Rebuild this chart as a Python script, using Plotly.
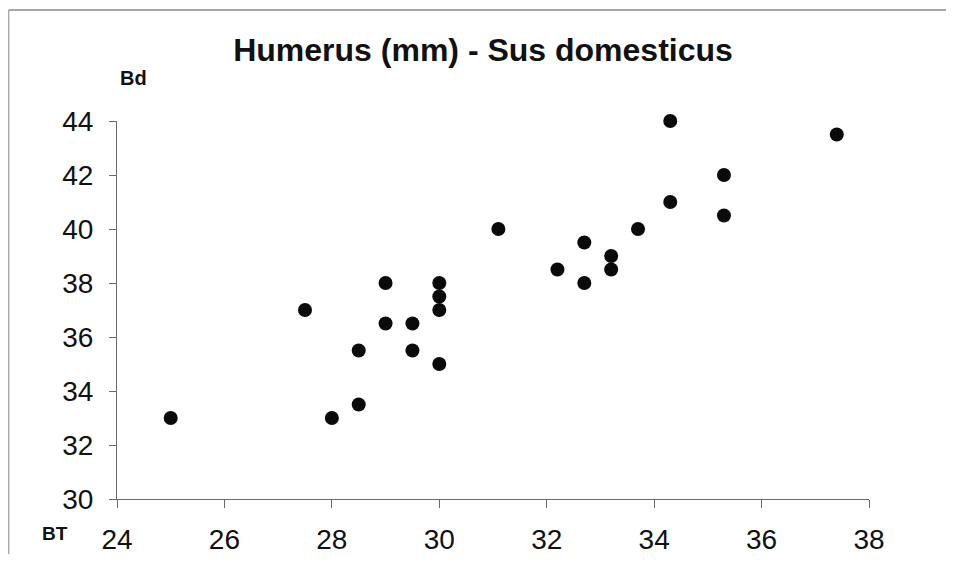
import plotly.graph_objects as go

# Data
bt = [25, 27.5, 28, 28.5, 28.5, 29, 29, 29.5, 29.5, 30, 30, 30, 30,
      31.1, 32.2, 32.7, 32.7, 33.2, 33.2, 33.7, 34.3, 34.3, 35.3, 35.3, 37.4]
bd = [33, 37, 33, 33.5, 35.5, 38, 36.5, 36.5, 35.5, 38, 37.5, 37, 35,
      40, 38.5, 39.5, 38, 39, 38.5, 40, 44, 41, 42, 40.5, 43.5]

title_text = "Humerus (mm) - Sus domesticus"
x_label = "BT"
y_label = "Bd"
x_range = [24, 38]
y_range = [30, 44]

FONT = "Liberation Sans, Arial, Helvetica, sans-serif"
OFF = 8  # default page body margin on every side
W, H = 954 - 2 * OFF, 562 - 2 * OFF
# plot area in screen pixels: x 117..869, y 121..499
ML, MT = 117 - OFF, 121 - OFF
MR, MB = W - (869 - OFF), H - (499 - OFF)
PW, PH = W - ML - MR, H - MT - MB

def px_x(px):
    # px given in screen coordinates
    return (px - OFF - ML) / PW

def px_y(py):
    return (H - MB - (py - OFF)) / PH

fig = go.Figure()
fig.add_trace(go.Scatter(
    x=bt, y=bd, mode="markers",
    marker=dict(size=14, color="#0a0a0a", line=dict(width=0)),
    showlegend=False, hoverinfo="x+y", cliponaxis=False,
))

axis_common = dict(
    showgrid=False, zeroline=False, showline=True,
    linecolor="#6a6a6a", linewidth=1,
    ticks="outside", tickcolor="#6a6a6a", tickwidth=1,
    tickfont=dict(family=FONT, size=28, color="#111"),
    dtick=2, mirror=False, automargin=False,
)

fig.update_layout(
    width=W, height=H,
    margin=dict(l=ML, r=MR, t=MT, b=MB),
    paper_bgcolor="white", plot_bgcolor="white",
    title=dict(
        text="<b>" + title_text + "</b>",
        font=dict(family=FONT, size=32, color="#111"),
        x=(483 - OFF) / W, xref="container", xanchor="center",
        y=1 - (50 - OFF) / H, yref="container", yanchor="middle",
    ),
    xaxis=dict(range=x_range, tick0=24, ticklen=8, ticklabelstandoff=7, **axis_common),
    yaxis=dict(range=y_range, tick0=30, ticklen=7, ticklabelstandoff=10, **axis_common),
    annotations=[
        dict(text="<b>" + y_label + "</b>", xref="paper", yref="paper",
             x=px_x(133), y=px_y(78), showarrow=False,
             font=dict(family=FONT, size=20, color="#111"),
             xanchor="center", yanchor="middle"),
        dict(text="<b>" + x_label + "</b>", xref="paper", yref="paper",
             x=px_x(55), y=px_y(533), showarrow=False,
             font=dict(family=FONT, size=19, color="#111"),
             xanchor="center", yanchor="middle"),
    ],
    shapes=[
        dict(type="line", xref="paper", yref="paper",
             x0=px_x(8.75), x1=px_x(970), y0=px_y(10), y1=px_y(10),
             line=dict(color="#8a8a8a", width=1.5)),
        dict(type="line", xref="paper", yref="paper",
             x0=px_x(8.75), x1=px_x(8.75), y0=px_y(10), y1=px_y(580),
             line=dict(color="#9a9a9a", width=1.2)),
    ],
)

fig.write_html("out.html")
